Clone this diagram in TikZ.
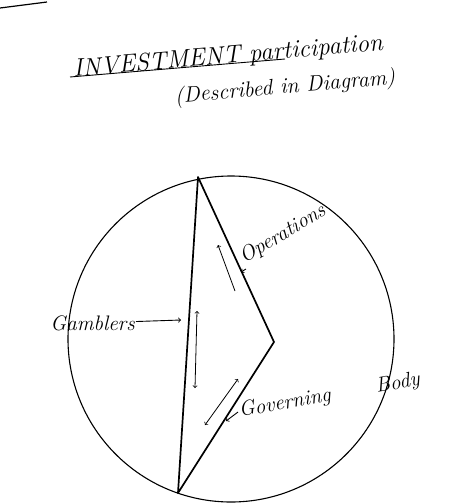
\documentclass[tikz,border=0pt]{standalone}
\usetikzlibrary{positioning}
\begin{document}
\begin{tikzpicture}[x=1pt, y=-1pt,
    handtext/.style={font=\itshape\fontsize{25}{28}\selectfont, inner sep=1pt},
    sidelabel/.style={font=\itshape\fontsize{21}{24}\selectfont, inner sep=1pt},
    edgeline/.style={line width=1.7pt},
    flowarrow/.style={line width=0.8pt, ->},
    pointer/.style={line width=0.9pt, ->}]
    \useasboundingbox (0,0) rectangle (453,504);

    % Stray stroke
    \coordinate (cornerA) at (0,8);
    \coordinate (cornerB) at (47,2);
    \draw[line width=1.2pt] (cornerA) -- (cornerB);

    % Title
    \node[handtext, rotate=5] (title) at (228,57) {INVESTMENT participation};
    \node[handtext, font=\itshape\fontsize{22}{26}\selectfont, rotate=5] (desc) at (285,88) {(Described in Diagram)};
    \coordinate (ulineA) at (70,77);
    \coordinate (ulineB) at (285,59);
    \draw[line width=0.9pt] (ulineA) -- (ulineB);

    % Circle and triangle
    \draw[line width=1.1pt] (231,339) circle[radius=163pt];
    \coordinate (apex) at (198,177);
    \coordinate (tip) at (274,342);
    \coordinate (base) at (178,493);
    \draw[edgeline, line join=round] (apex) -- (tip) -- (base) -- cycle;

    % Arrows inside
    \coordinate (opsA) at (235,291);
    \coordinate (opsB) at (218,245);
    \draw[flowarrow] (opsA) -- (opsB);
    \coordinate (gamA) at (197,311);
    \coordinate (gamB) at (195,388);
    \draw[flowarrow, <->] (gamA) -- (gamB);
    \coordinate (govA) at (238,379);
    \coordinate (govB) at (205,425);
    \draw[flowarrow, <->] (govA) -- (govB);

    % Labels
    \node[sidelabel, anchor=east] (gamblers) at (136,323) {Gamblers};
    \coordinate (gamEdge) at (181,320);
    \draw[pointer] (gamblers) -- (gamEdge);

    \node[sidelabel, rotate=31, anchor=south west] (operations) at (246,269) {Operations};
    \coordinate (opsEdge) at (241,272);
    \draw[pointer] (operations.south west) -- (opsEdge);

    \node[sidelabel, rotate=10, anchor=west] (governing) at (238,412) {Governing\hspace{46pt}Body};
    \coordinate (govEdge) at (226,421);
    \draw[pointer] (governing.west) -- (govEdge);
\end{tikzpicture}
\end{document}
